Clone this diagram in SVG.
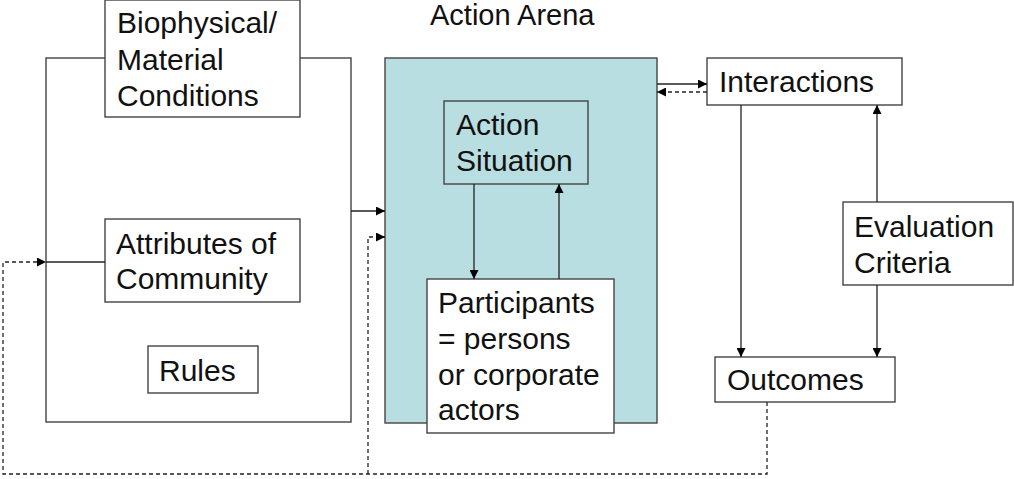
<svg xmlns="http://www.w3.org/2000/svg" width="1014" height="479" viewBox="0 0 1014 479">
<style>
.box{fill:#fff;stroke:#444;stroke-width:1.4}
.arena{fill:#b9dee2;stroke:#444;stroke-width:1.4}
.frame{fill:none;stroke:#444;stroke-width:1.4}
.t{font-family:"Liberation Sans",Arial,sans-serif;font-size:30px;fill:#111}
.c{fill:none;stroke:#222;stroke-width:1.3}
.d{fill:none;stroke:#222;stroke-width:1.3;stroke-dasharray:4 3}
</style>
<defs>
<marker id="ah" viewBox="0 0 10 10" refX="10" refY="5" markerWidth="10" markerHeight="9" markerUnits="userSpaceOnUse" orient="auto">
<path d="M0,0 L10,5 L0,10 z" fill="#000"/>
</marker>
</defs>
<g id="context-frame"><rect class="frame" x="46" y="58" width="305" height="364"/></g>
<g id="action-arena">
<rect class="arena" x="385" y="58" width="272" height="365"/>
<text class="t" x="430" y="25" style="font-size:29px">Action Arena</text>
</g>
<g id="biophysical"><rect class="box" x="105" y="0" width="195" height="117"/>
<text class="t" x="117" y="33">Biophysical/</text><text class="t" x="117" y="70">Material</text><text class="t" x="117" y="106">Conditions</text></g>
<g id="attributes"><rect class="box" x="105" y="219" width="195" height="83"/>
<text class="t" x="116" y="254">Attributes of</text><text class="t" x="116" y="289">Community</text></g>
<g id="rules"><rect class="box" x="148" y="346" width="110" height="47"/>
<text class="t" x="159" y="381">Rules</text></g>
<g id="action-situation"><rect class="arena" x="444" y="101" width="144" height="83"/>
<text class="t" x="456" y="135">Action</text><text class="t" x="456" y="171">Situation</text></g>
<g id="participants"><rect class="box" x="427" y="279" width="187" height="154"/>
<text class="t" x="438" y="313">Participants</text><text class="t" x="438" y="349">= persons</text><text class="t" x="438" y="385">or corporate</text><text class="t" x="438" y="420">actors</text></g>
<g id="interactions"><rect class="box" x="707" y="58" width="195" height="47"/>
<text class="t" x="719" y="92">Interactions</text></g>
<g id="evaluation"><rect class="box" x="843" y="202" width="170" height="83"/>
<text class="t" x="854" y="237">Evaluation</text><text class="t" x="854" y="273">Criteria</text></g>
<g id="outcomes"><rect class="box" x="715" y="357" width="180" height="45"/>
<text class="t" x="727" y="390">Outcomes</text></g>
<g id="connectors">
<line class="c" x1="351" y1="211" x2="385" y2="211" marker-end="url(#ah)"/>
<line class="c" x1="46" y1="262" x2="105" y2="262"/>
<line class="c" x1="474" y1="184" x2="474" y2="279" marker-end="url(#ah)"/>
<line class="c" x1="559" y1="279" x2="559" y2="184" marker-end="url(#ah)"/>
<line class="c" x1="657" y1="84" x2="707" y2="84" marker-end="url(#ah)"/>
<line class="d" x1="707" y1="92" x2="657" y2="92" marker-end="url(#ah)"/>
<line class="c" x1="741" y1="105" x2="741" y2="357" marker-end="url(#ah)"/>
<line class="c" x1="877" y1="202" x2="877" y2="105" marker-end="url(#ah)"/>
<line class="c" x1="877" y1="285" x2="877" y2="357" marker-end="url(#ah)"/>
<polyline class="d" points="767,402 767,474 3,474 3,262 46,262" marker-end="url(#ah)"/>
<polyline class="d" points="368,474 368,237 385,237" marker-end="url(#ah)"/>
</g>
</svg>
